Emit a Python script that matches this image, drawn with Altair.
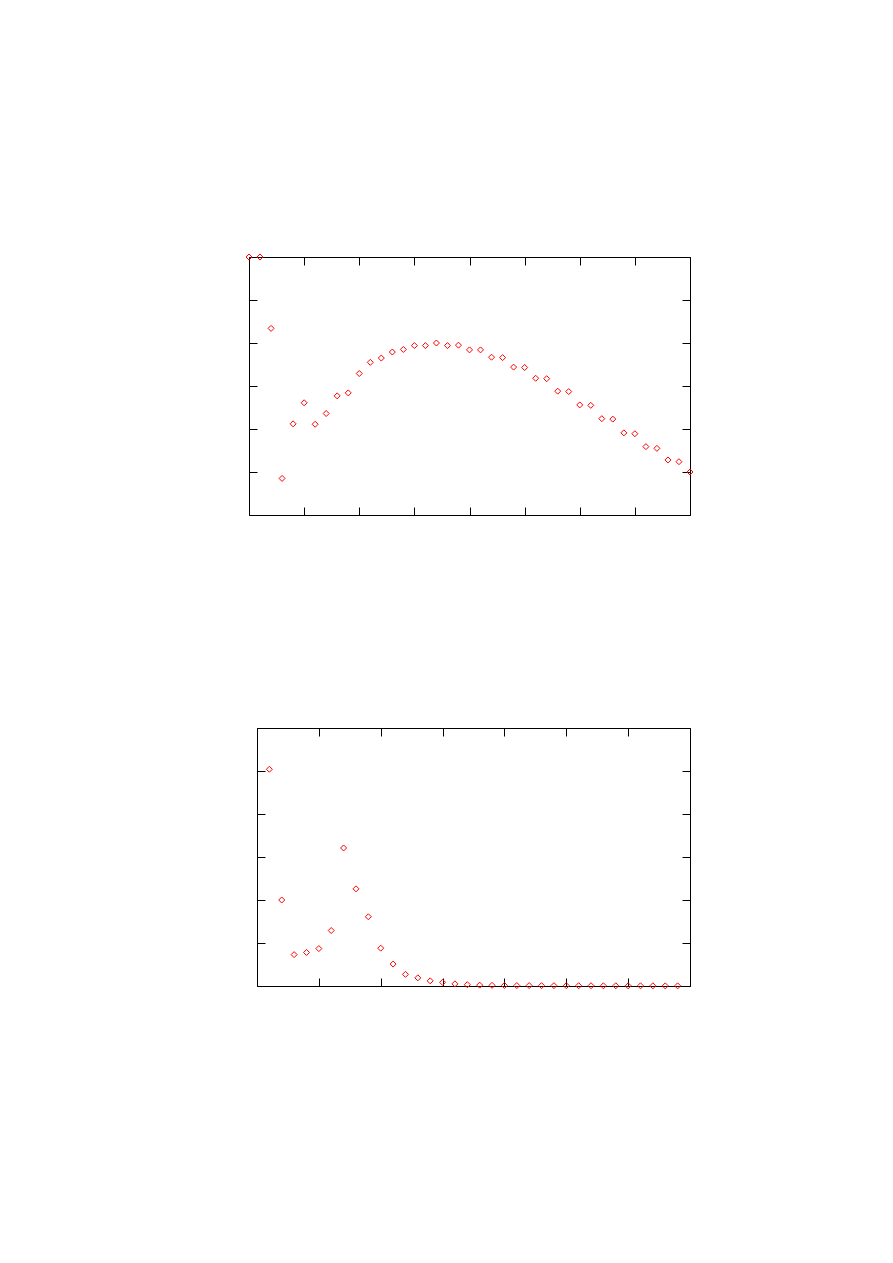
import altair as alt
import pandas as pd

# top panel
x_top = list(range(0, 41))
y_top = [6.0, 6.0, 4.34, 0.85, 2.12, 2.61, 2.11, 2.36, 2.77, 2.84,
         3.29, 3.55, 3.65, 3.79, 3.85, 3.94, 3.94, 4.0, 3.94, 3.95,
         3.84, 3.84, 3.67, 3.66, 3.44, 3.43, 3.18, 3.17, 2.88, 2.87,
         2.56, 2.55, 2.24, 2.23, 1.91, 1.89, 1.59, 1.55, 1.28, 1.24,
         1.0]
xticks_top = [0, 5, 10, 15, 20, 25, 30, 35, 40]

# bottom panel
x_bot = list(range(1, 35))
y_bot = [5.04, 2.0, 0.73, 0.78, 0.87, 1.29, 3.21, 2.26, 1.61, 0.88,
         0.51, 0.27, 0.19, 0.12, 0.085, 0.05, 0.03, 0.02, 0.015, 0.012,
         0.01, 0.01, 0.008, 0.008, 0.007, 0.006, 0.006, 0.005, 0.005, 0.004,
         0.004, 0.004, 0.003, 0.003]
xticks_bot = [0, 5, 10, 15, 20, 25, 30, 35]

yticks = [0, 1, 2, 3, 4, 5, 6]

df_top = pd.DataFrame({"x": x_top, "y": y_top})
df_bot = pd.DataFrame({"x": x_bot, "y": y_bot})


def panel(df, xmax, xticks, w, h):
    xs = alt.Scale(domain=[0, xmax], nice=False, zero=False)
    ys = alt.Scale(domain=[0, 6], nice=False, zero=False)
    common = dict(labels=False, domain=False, grid=False, tickSize=8,
                  tickColor="black", tickWidth=1, offset=-8)
    base = alt.Chart(df).mark_point(
        shape="diamond", filled=False, color="#ff0000", size=36,
        strokeWidth=1, opacity=1
    ).encode(
        x=alt.X("x:Q", scale=xs, title=None,
                axis=alt.Axis(orient="bottom", values=xticks, **common)),
        y=alt.Y("y:Q", scale=ys, title=None,
                axis=alt.Axis(orient="left", values=yticks, **common)),
    )
    mirror = alt.Chart(df).mark_point(size=1, opacity=0).encode(
        x=alt.X("x:Q", scale=xs, title=None,
                axis=alt.Axis(orient="top", values=xticks, **common)),
        y=alt.Y("y:Q", scale=ys, title=None,
                axis=alt.Axis(orient="right", values=yticks, **common)),
    )
    return alt.layer(base, mirror).resolve_axis(
        x="independent", y="independent"
    ).properties(width=w, height=h)


p1 = panel(df_top, 40, xticks_top, 441, 258)
p2 = panel(df_bot, 35, xticks_bot, 433, 258)

spacer = alt.Chart(df_bot).mark_point(size=1, opacity=0).encode(
    x=alt.X("x:Q", axis=None),
    y=alt.Y("y:Q", axis=None),
).properties(width=6, height=258,
             view=alt.ViewBackground(stroke="transparent"))

chart = alt.vconcat(
    p1,
    alt.hconcat(spacer, p2, spacing=0),
    spacing=211,
).properties(
    padding={"left": 235, "top": 243, "right": 0, "bottom": 0}
).configure_view(stroke="black", strokeWidth=1)

chart.save("out.html", embed_options={"renderer": "svg", "actions": False})
